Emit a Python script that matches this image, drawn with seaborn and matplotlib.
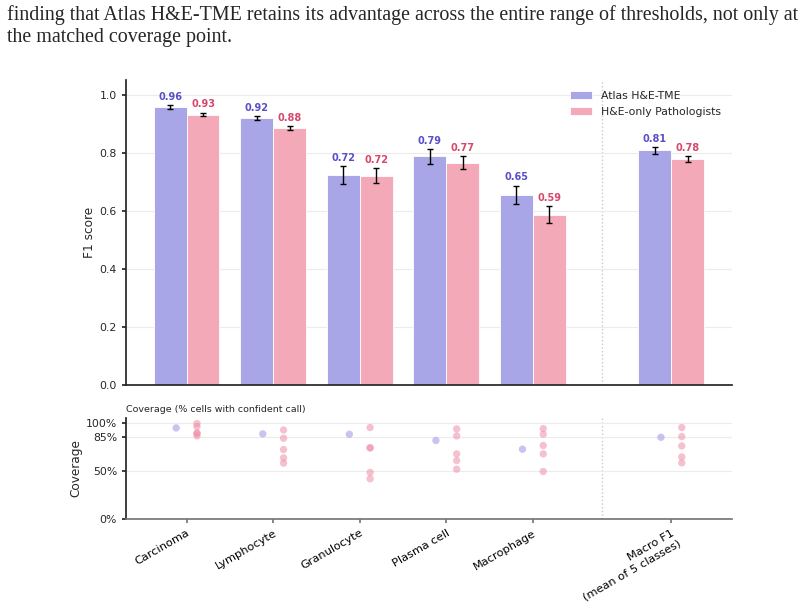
import numpy as np
import pandas as pd
import matplotlib
matplotlib.use("Agg")
import matplotlib.pyplot as plt
import seaborn as sns

# ---------------- data ----------------
categories = ["Carcinoma", "Lymphocyte", "Granulocyte", "Plasma cell", "Macrophage",
              "Macro F1\n(mean of 5 classes)"]
positions = [0, 1, 2, 3, 4, 5.6]
methods = ["Atlas H&E-TME", "H&E-only Pathologists"]

atlas_f1 = [0.956, 0.918, 0.723, 0.787, 0.654, 0.808]
atlas_err = [0.007, 0.007, 0.031, 0.025, 0.032, 0.011]
path_f1 = [0.931, 0.884, 0.721, 0.766, 0.587, 0.778]
path_err = [0.006, 0.006, 0.026, 0.022, 0.028, 0.010]

atlas_cov = [0.947, 0.885, 0.881, 0.816, 0.726, 0.850]
path_cov = [
    [0.992, 0.961, 0.892, 0.892, 0.864],
    [0.926, 0.840, 0.722, 0.636, 0.581],
    [0.951, 0.740, 0.740, 0.484, 0.418],
    [0.937, 0.864, 0.677, 0.608, 0.518],
    [0.940, 0.881, 0.764, 0.677, 0.494],
    [0.951, 0.857, 0.760, 0.646, 0.584],
]
cov_ticks = [0, 0.5, 0.85, 1.0]
cov_ticklabels = ["0%", "50%", "85%", "100%"]

header1 = ("finding that Atlas H&E-TME retains its advantage across the entire range of "
           "thresholds, not only at")
header2 = "the matched coverage point."

# ---------------- style ----------------
sns.set_theme(style="ticks")
plt.rcParams["font.family"] = ["DejaVu Sans"]

TICK_FS = 7.8
XTICK_FS = 8.2
LABEL_FS = 8.7

bar_colors = {"Atlas H&E-TME": "#a8a6e6", "H&E-only Pathologists": "#f4a9b9"}
text_colors = {"Atlas H&E-TME": "#5a4fc8", "H&E-only Pathologists": "#d6476c"}
dot_colors = {"Atlas H&E-TME": "#9b95e6", "H&E-only Pathologists": "#ef8fa6"}

df = pd.DataFrame({
    "pos": positions * 2,
    "f1": atlas_f1 + path_f1,
    "method": [methods[0]] * len(positions) + [methods[1]] * len(positions),
})

fig = plt.figure(figsize=(8.04, 6.09), dpi=100)
ax = fig.add_axes([0.1567, 0.3678, 0.7537, 0.5008])
ax2 = fig.add_axes([0.1567, 0.1478, 0.7537, 0.1658])

for a in (ax, ax2):
    a.set_axisbelow(True)
    a.yaxis.grid(True, color="#ececec", linewidth=0.8)

sns.barplot(data=df, x="pos", y="f1", hue="method", native_scale=True,
            palette=bar_colors, width=0.76, gap=0, ax=ax, errorbar=None,
            edgecolor="white", linewidth=0.6, saturation=1)

off = 0.19
for vals, errs, sign, m in [(atlas_f1, atlas_err, -1, methods[0]),
                            (path_f1, path_err, 1, methods[1])]:
    xs = [p + sign * off for p in positions]
    ax.errorbar(xs, vals, yerr=errs, fmt="none", ecolor="black",
                elinewidth=1.0, capsize=2.3, capthick=1.0, zorder=5)
    for x, v, e in zip(xs, vals, errs):
        ax.text(x, v + e + 0.012, f"{v:.2f}", ha="center", va="bottom",
                fontsize=7, fontweight="bold", color=text_colors[m])

ax.set_xlim(-0.7, 6.3)
ax.set_ylim(0, 1.05)
ax.set_yticks([0, 0.2, 0.4, 0.6, 0.8, 1.0])
ax.set_yticklabels(["0.0", "0.2", "0.4", "0.6", "0.8", "1.0"], fontsize=TICK_FS)
ax.set_ylabel("F1 score", fontsize=LABEL_FS, labelpad=2.5)
ax.set_xlabel("")
ax.set_xticks([])
ax.axvline(4.8, color="#c8c8c8", linestyle=":", linewidth=1.0, zorder=0)
ax.legend(loc="upper right", frameon=False, fontsize=TICK_FS, handlelength=2.1,
          borderaxespad=0.6, labelspacing=0.55)
sns.despine(ax=ax)

# coverage panel
cov_rows = []
for p, a_c, p_c in zip(positions, atlas_cov, path_cov):
    cov_rows.append({"x": p - 0.12, "cov": a_c, "method": methods[0]})
    for c in p_c:
        cov_rows.append({"x": p + 0.12, "cov": c, "method": methods[1]})
cov_df = pd.DataFrame(cov_rows)
sns.scatterplot(data=cov_df, x="x", y="cov", hue="method", palette=dot_colors,
                s=28, alpha=0.55, edgecolor="none", legend=False, ax=ax2)

ax2.set_xlim(-0.7, 6.3)
ax2.set_ylim(0, 1.05)
ax2.set_yticks(cov_ticks)
ax2.set_yticklabels(cov_ticklabels, fontsize=TICK_FS)
ax2.set_ylabel("Coverage", fontsize=LABEL_FS, labelpad=2.5)
ax2.set_xlabel("")
ax2.set_xticks(positions)
ax2.set_xticklabels(categories, rotation=30, ha="right", rotation_mode="anchor",
                    fontsize=XTICK_FS, multialignment="right")
ax2.axvline(4.8, color="#c8c8c8", linestyle=":", linewidth=1.0, zorder=0)
ax2.set_title("Coverage (% cells with confident call)", loc="left", fontsize=6.8,
              pad=4)
sns.despine(ax=ax2)
ax2.spines["bottom"].set_color("#777777")
ax2.tick_params(axis="x", colors="#777777", labelcolor="black", length=3)

for a in (ax, ax2):
    a.tick_params(axis="y", length=3)

fig.text(0.009, 1 - 20 / 609, header1, family="Liberation Serif", fontsize=14.4,
         va="baseline", ha="left")
fig.text(0.009, 1 - 42 / 609, header2, family="Liberation Serif", fontsize=14.4,
         va="baseline", ha="left")

fig.savefig("out.png", dpi=100)
